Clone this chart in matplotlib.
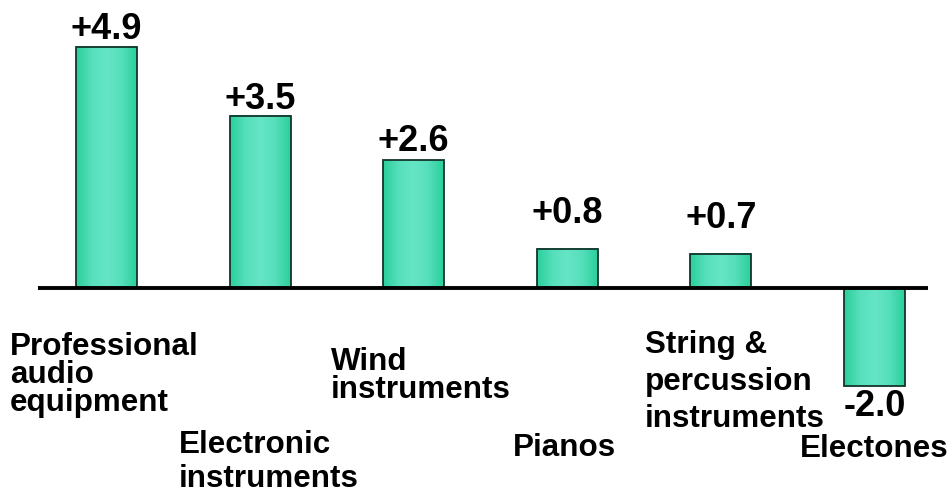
import numpy as np
import matplotlib.pyplot as plt
from matplotlib.colors import LinearSegmentedColormap

# ---------- data ----------
categories = [
    "Professional\naudio\nequipment",
    "Electronic\ninstruments",
    "Wind\ninstruments",
    "Pianos",
    "String &\npercussion\ninstruments",
    "Electones",
]
changes = [4.9, 3.5, 2.6, 0.8, 0.7, -2.0]
value_labels = ["+4.9", "+3.5", "+2.6", "+0.8", "+0.7", "-2.0"]

# ---------- layout (pixels) ----------
W, H = 953, 493
ZERO_Y = 288          # baseline row
PX_PER_UNIT = 49.2
# gap between bar end and value-label baseline
label_gap = [8, 7, 9, 26, 26, -30]
# category labels: left edge, first baseline, line step
cat_layout = [
    (10, 355, 28), (179, 453, 34), (331, 370, 28),
    (513, 456, 0), (645, 353, 37), (800, 457, 0),
]

plt.rcParams["font.family"] = ["Liberation Sans", "DejaVu Sans"]
plt.rcParams["font.weight"] = "bold"

fig = plt.figure(figsize=(W / 100, H / 100), dpi=100)
ax = fig.add_axes([38 / W, 0, 890 / W, 1])

x = np.arange(len(changes))
width = 0.397

# horizontal shading across each bar
grad_cmap = LinearSegmentedColormap.from_list(
    "bar_shade", ["#2bcf9c", "#55dfba", "#66e5c6", "#55dfba", "#2bcf9c"])
grad = np.linspace(0, 1, 64).reshape(1, -1)

for xi, v in zip(x, changes):
    ax.imshow(grad, cmap=grad_cmap, aspect="auto", interpolation="bilinear",
              extent=(xi - width / 2, xi + width / 2, min(0, v), max(0, v)),
              zorder=2)

ax.bar(x, changes, width=width, facecolor="none", edgecolor="#12352a",
       linewidth=1.3, zorder=3)

ax.axhline(0, color="black", linewidth=2.8, zorder=4)

px2pt = 72 / 100
for xi, v, lab, gap in zip(x, changes, value_labels, label_gap):
    ax.annotate(lab, (xi, v), xytext=(0, gap * px2pt), textcoords="offset points",
                ha="center", va="baseline", fontsize=26, fontweight="bold")

# category names, one line at a time
for name, (px, py, step) in zip(categories, cat_layout):
    for i, line in enumerate(name.split("\n")):
        fig.text(px / W, 1 - (py + i * step) / H, line, ha="left",
                 va="baseline", fontsize=22.6, fontweight="bold")

ax.set_xlim((38 - 106.5) / 153.6, (928 - 106.5) / 153.6)
ax.set_ylim(-(H - ZERO_Y) / PX_PER_UNIT, ZERO_Y / PX_PER_UNIT)
ax.axis("off")

fig.savefig("out.png", dpi=100)
